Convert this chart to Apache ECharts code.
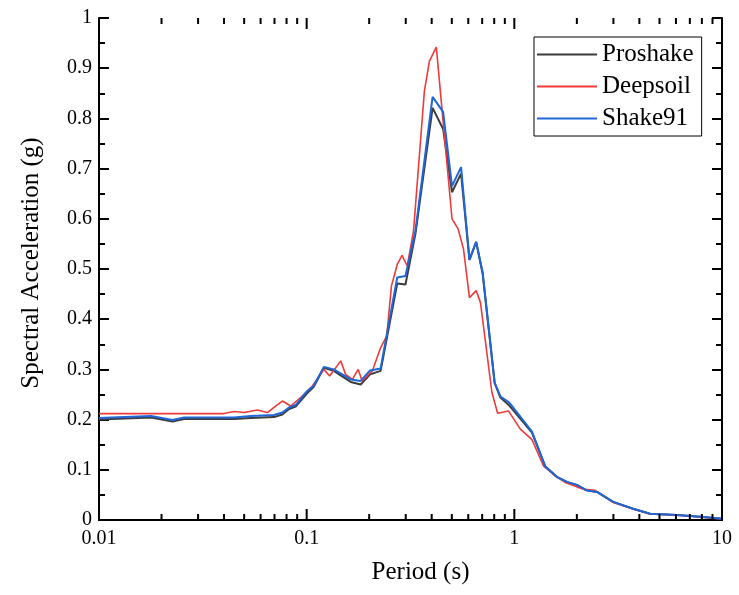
<!DOCTYPE html>
<html>
<head>
<meta charset="utf-8">
<script src="https://cdn.jsdelivr.net/npm/echarts@6/dist/echarts.min.js"></script>
<style>
html,body{margin:0;padding:0;background:#fff;}
#chart{width:739px;height:595px;}
</style>
</head>
<body>
<div id="chart"></div>
<script>
// Period (s) and spectral acceleration (g) per program
const proshakeT  = [0.01,0.0178,0.0226,0.0257,0.0447,0.0538,0.0696,0.0764,0.0822,0.0885,0.1007,0.108,0.121,0.135,0.163,0.182,0.202,0.227,0.273,0.299,0.334,0.404,0.454,0.501,0.554,0.608,0.655,0.704,0.804,0.857,0.946,1.216,1.41,1.60,1.79,2.00,2.23,2.50,2.99,3.73,4.50,6.05,7.84,10];
const proshakeSA = [0.200,0.204,0.196,0.201,0.201,0.203,0.205,0.210,0.221,0.226,0.253,0.265,0.303,0.297,0.275,0.270,0.290,0.297,0.471,0.469,0.570,0.821,0.779,0.653,0.690,0.518,0.554,0.490,0.273,0.244,0.228,0.174,0.107,0.086,0.076,0.070,0.059,0.056,0.036,0.0225,0.0126,0.010,0.0066,0.0026];

const deepsoilT  = [0.01,0.02,0.04,0.0447,0.050,0.0579,0.0647,0.0709,0.0764,0.0838,0.0935,0.1007,0.1065,0.121,0.129,0.146,0.154,0.166,0.177,0.185,0.207,0.227,0.243,0.256,0.273,0.288,0.305,0.327,0.369,0.390,0.421,0.501,0.536,0.569,0.608,0.655,0.687,0.780,0.831,0.938,1.069,1.216,1.38,1.58,1.77,2.00,2.17,2.45,2.99,3.73,4.50,6.05,7.84,10];
const deepsoilSA = [0.212,0.212,0.212,0.216,0.214,0.219,0.214,0.227,0.237,0.227,0.244,0.257,0.267,0.300,0.287,0.317,0.290,0.280,0.300,0.277,0.297,0.343,0.367,0.466,0.509,0.527,0.506,0.576,0.855,0.914,0.942,0.600,0.580,0.540,0.443,0.457,0.433,0.254,0.2125,0.217,0.181,0.160,0.108,0.0876,0.074,0.066,0.061,0.059,0.035,0.022,0.012,0.010,0.006,0.002];

const shake91T  = [0.01,0.0178,0.0226,0.0257,0.0447,0.0538,0.0696,0.0764,0.0822,0.0885,0.1007,0.108,0.121,0.135,0.163,0.182,0.202,0.227,0.273,0.299,0.334,0.404,0.454,0.501,0.554,0.608,0.655,0.704,0.804,0.857,0.946,1.216,1.41,1.60,1.79,2.00,2.23,2.50,2.99,3.73,4.50,6.05,7.84,10];
const shake91SA = [0.203,0.207,0.199,0.204,0.204,0.207,0.209,0.214,0.224,0.229,0.257,0.267,0.305,0.300,0.280,0.277,0.298,0.302,0.483,0.486,0.576,0.843,0.813,0.665,0.703,0.518,0.554,0.493,0.273,0.246,0.234,0.176,0.106,0.086,0.076,0.070,0.059,0.056,0.036,0.0225,0.0126,0.010,0.0066,0.0026];

const seriesNames = ['Proshake','Deepsoil','Shake91'];
const xMajorTicks = [0.01,0.1,1,10];
const xMinorTicks = [0.02,0.03,0.04,0.05,0.06,0.07,0.08,0.09,0.2,0.3,0.4,0.5,0.6,0.7,0.8,0.9,2,3,4,5,6,7,8,9];

const FONT = '"Liberation Serif","Times New Roman",serif';
const zip = (a, b) => a.map((v, i) => [v, b[i]]);

const chart = echarts.init(document.getElementById('chart'), null, {renderer: 'canvas'});
const axisLineStyle = {color: '#000', width: 2};

const tickData = xMajorTicks.map(v => [v, 11]).concat(xMinorTicks.map(v => [v, 6]));

chart.setOption({
  animation: false,
  backgroundColor: '#fff',
  grid: {left: 99, right: 17, top: 18, bottom: 75, containLabel: false},
  legend: {
    data: seriesNames.map(n => ({name: n, icon: 'rect'})),
    orient: 'vertical',
    left: 534, top: 37,
    itemWidth: 60, itemHeight: 2, itemGap: 7,
    padding: [5, 8, 5, 3],
    borderColor: '#000', borderWidth: 1,
    textStyle: {fontFamily: FONT, fontSize: 25, color: '#000'}
  },
  xAxis: [{
    type: 'log', logBase: 10, min: 0.01, max: 10,
    name: 'Period (s)', nameLocation: 'middle', nameGap: 40,
    nameTextStyle: {fontFamily: FONT, fontSize: 25, color: '#000', padding: [0, 0, 0, 20]},
    axisLine: {lineStyle: axisLineStyle},
    axisTick: {show: false},
    axisLabel: {fontFamily: FONT, fontSize: 20, color: '#000', margin: 9,
      formatter: v => String(+v.toPrecision(3))},
    splitLine: {show: false}
  }, {
    type: 'log', logBase: 10, min: 0.01, max: 10, position: 'top',
    axisLine: {lineStyle: axisLineStyle},
    axisTick: {show: false},
    axisLabel: {show: false}, splitLine: {show: false}
  }],
  yAxis: [{
    type: 'value', min: 0, max: 1, interval: 0.1,
    name: 'Spectral Acceleration (g)', nameLocation: 'middle', nameGap: 55,
    nameTextStyle: {fontFamily: FONT, fontSize: 25, color: '#000', padding: [0, 0, 0, 12]},
    axisLine: {show: true, lineStyle: axisLineStyle},
    axisTick: {show: true, inside: true, length: 10, lineStyle: {color: '#000', width: 2}},
    minorTick: {show: true, splitNumber: 2, length: 6, lineStyle: {color: '#000', width: 2}},
    axisLabel: {fontFamily: FONT, fontSize: 20, color: '#000', margin: 7},
    splitLine: {show: false}
  }, {
    type: 'value', min: 0, max: 1, interval: 0.1, position: 'right',
    axisLine: {show: true, lineStyle: axisLineStyle},
    axisTick: {show: true, inside: true, length: 10, lineStyle: {color: '#000', width: 2}},
    minorTick: {show: true, splitNumber: 2, length: 6, lineStyle: {color: '#000', width: 2}},
    axisLabel: {show: false}, splitLine: {show: false}
  }],
  series: [
    {name: 'Proshake', type: 'line', data: zip(proshakeT, proshakeSA), symbol: 'none',
      lineStyle: {color: '#3c3c3c', width: 2}, itemStyle: {color: '#3c3c3c'}},
    {name: 'Deepsoil', type: 'line', data: zip(deepsoilT, deepsoilSA), symbol: 'none',
      lineStyle: {color: '#ee3a3a', width: 1.6}, itemStyle: {color: '#ee3a3a'}},
    {name: 'Shake91', type: 'line', data: zip(shake91T, shake91SA), symbol: 'none',
      lineStyle: {color: '#1f66d9', width: 2}, itemStyle: {color: '#1f66d9'}},
    {name: 'xTicks', type: 'custom', silent: true, z: 5, clip: false,
      data: tickData,
      renderItem: function (params, api) {
        const x = api.coord([api.value(0), 0.5])[0];
        const len = api.value(1);
        const cs = params.coordSys;
        const st = {stroke: '#000', lineWidth: 2};
        return {type: 'group', children: [
          {type: 'line', shape: {x1: x, y1: cs.y + cs.height, x2: x, y2: cs.y + cs.height - len}, style: st},
          {type: 'line', shape: {x1: x, y1: cs.y, x2: x, y2: cs.y + len}, style: st}
        ]};
      }}
  ]
});
</script>
</body>
</html>
